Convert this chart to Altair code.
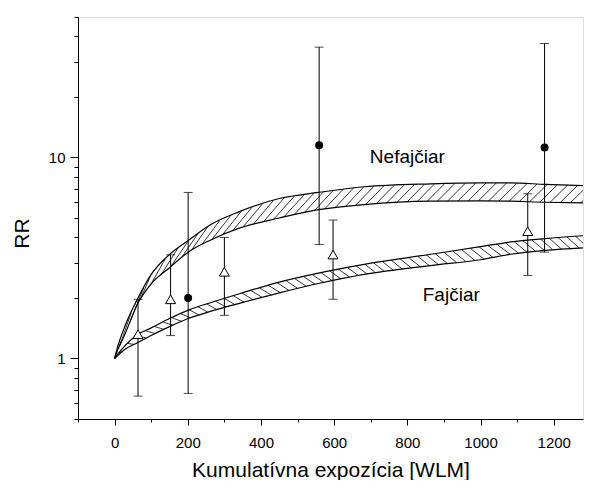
import altair as alt
import pandas as pd
import numpy as np

FONT = "Liberation Sans"

# ---- measured points (RR with confidence intervals) ----
non_x = [201, 559, 1175]
non_rr = [2.0, 11.5, 11.2]
non_lo = [0.67, 3.69, 3.38]
non_hi = [6.7, 35.4, 36.9]

smk_x = [64, 153, 300, 597, 1129]
smk_rr = [1.32, 1.97, 2.70, 3.29, 4.30]
smk_lo = [0.65, 1.30, 1.64, 1.97, 2.59]
smk_hi = [1.97, 3.28, 4.00, 4.88, 6.60]

# ---- model bands ----
band_x = [0, 10, 25, 64, 100, 150, 205, 264, 341, 450, 557, 682, 864, 1000, 1082, 1177, 1280]
non_band_up = [1.0, 1.17, 1.40, 2.0, 2.62, 3.29, 3.91, 4.65, 5.38, 6.25, 6.7, 7.15, 7.39, 7.47, 7.47, 7.35, 7.25]
non_band_lo = [1.0, 1.12, 1.28, 1.89, 2.35, 2.83, 3.42, 3.9, 4.45, 5.0, 5.5, 5.83, 6.06, 6.08, 6.06, 5.99, 5.95]
smk_band_up = [1.0, 1.06, 1.14, 1.32, 1.42, 1.58, 1.75, 1.9, 2.1, 2.4, 2.66, 2.94, 3.3, 3.6, 3.8, 3.95, 4.08]
smk_band_lo = [1.0, 1.04, 1.10, 1.20, 1.30, 1.44, 1.59, 1.72, 1.88, 2.12, 2.36, 2.62, 2.9, 3.1, 3.3, 3.45, 3.55]

# ---- axis ticks ----
x_major = [0, 200, 400, 600, 800, 1000, 1200]
x_minor = [-100, 100, 300, 500, 700, 900, 1100]
y_major = [1, 10]
y_minor = [0.5, 0.6, 0.7, 0.8, 0.9, 2, 3, 4, 5, 6, 7, 8, 9, 20, 30, 40, 50]

labels_txt = ["Nefajčiar", "Fajčiar"]
labels_x = [800, 920]
labels_y = [10.0, 2.08]

X_DOMAIN = [-100, 1280]
Y_DOMAIN = [0.5, 50]
W, H = 505, 402

xs = alt.Scale(domain=X_DOMAIN, nice=False, zero=False)
ys = alt.Scale(type="log", domain=Y_DOMAIN, nice=False)

# hatch helper (decoration derived from band outlines)
px_x = W / (X_DOMAIN[1] - X_DOMAIN[0])
px_dec = H / (np.log10(Y_DOMAIN[1]) - np.log10(Y_DOMAIN[0]))


def lint(xq, xv, yv):
    return 10 ** np.interp(xq, xv, np.log10(yv))


def hatch(up, lo, step, forward=True):
    rows = []
    x0 = step * 0.5
    while x0 < X_DOMAIN[1] + 60:
        h = px_dec * (np.log10(lint(x0, band_x, up)) - np.log10(lint(x0, band_x, lo)))
        d = h / px_x
        h2 = px_dec * (np.log10(lint(x0 + d, band_x, up)) - np.log10(lint(x0, band_x, lo)))
        d = 0.5 * (d + h2 / px_x)
        if forward:
            rows.append(dict(x=x0, y=lint(x0, band_x, lo), x2=x0 + d, y2=lint(x0 + d, band_x, up)))
        else:
            rows.append(dict(x=x0, y=lint(x0, band_x, up), x2=x0 + d, y2=lint(x0 + d, band_x, lo)))
        x0 += step
    return pd.DataFrame(rows)


hatch_df = pd.concat([hatch(non_band_up, non_band_lo, 28, True),
                      hatch(smk_band_up, smk_band_lo, 24, False)])

band_df = pd.concat([
    pd.DataFrame(dict(x=band_x, y=non_band_up, s="nu")),
    pd.DataFrame(dict(x=band_x, y=non_band_lo, s="nl")),
    pd.DataFrame(dict(x=band_x, y=smk_band_up, s="su")),
    pd.DataFrame(dict(x=band_x, y=smk_band_lo, s="sl")),
])

non_df = pd.DataFrame(dict(x=non_x, rr=non_rr, lo=non_lo, hi=non_hi))
smk_df = pd.DataFrame(dict(x=smk_x, rr=smk_rr, lo=smk_lo, hi=smk_hi))
err_df = pd.concat([non_df, smk_df])
cap_df = pd.concat([err_df[["x", "lo"]].rename(columns={"lo": "v"}),
                    err_df[["x", "hi"]].rename(columns={"hi": "v"})])
lab_df = pd.DataFrame(dict(t=labels_txt, x=labels_x, y=labels_y))
ax_df = pd.DataFrame(dict(x=[0], y=[1]))

common_axis = dict(grid=False, domainColor="black", tickColor="black", labelColor="black",
                   titleColor="black", labelFont=FONT, titleFont=FONT, titleFontWeight="normal",
                   domainWidth=1, tickWidth=1)

axes_major = alt.Chart(ax_df).mark_point(opacity=0).encode(
    x=alt.X("x:Q", scale=xs, axis=alt.Axis(values=x_major, tickSize=6, labelFontSize=15, labelPadding=10,
                                         format="d", title="Kumulatívna expozícia [WLM]", titleFontSize=21,
                                         titleY=57, titleBaseline="alphabetic", orient="bottom", **common_axis)),
    y=alt.Y("y:Q", scale=ys, axis=alt.Axis(values=y_major, tickSize=8, labelFontSize=15, labelPadding=5,
                                         format="d", title="RR", titleFontSize=21, titleX=-56, titleY=216,
                                         titleAngle=270, titleAlign="center", titleBaseline="middle",
                                         orient="left", **common_axis)),
)

axes_minor = alt.Chart(ax_df).mark_point(opacity=0).encode(
    x=alt.X("x:Q", scale=xs, axis=alt.Axis(values=x_minor, tickSize=3, labels=False, domain=False,
                                         title=None, orient="bottom", **common_axis)),
    y=alt.Y("y:Q", scale=ys, axis=alt.Axis(values=y_minor, tickSize=4, labels=False, domain=False,
                                         title=None, orient="left", **common_axis)),
)

bands = alt.Chart(band_df).mark_line(color="black", strokeWidth=1.2, interpolate="monotone", clip=True).encode(
    x=alt.X("x:Q", scale=xs, axis=None),
    y=alt.Y("y:Q", scale=ys, axis=None),
    detail="s:N",
)

hatches = alt.Chart(hatch_df).mark_rule(color="black", strokeWidth=0.8, clip=True).encode(
    x=alt.X("x:Q", scale=xs, axis=None),
    y=alt.Y("y:Q", scale=ys, axis=None),
    x2="x2:Q",
    y2="y2:Q",
)

errs = alt.Chart(err_df).mark_rule(color="black", strokeWidth=1).encode(
    x=alt.X("x:Q", scale=xs, axis=None),
    y=alt.Y("lo:Q", scale=ys, axis=None),
    y2="hi:Q",
)

caps = alt.Chart(cap_df).mark_tick(color="black", orient="horizontal", size=9, thickness=1).encode(
    x=alt.X("x:Q", scale=xs, axis=None),
    y=alt.Y("v:Q", scale=ys, axis=None),
)

tri = alt.Chart(smk_df).mark_point(shape="triangle-up", filled=True, fill="white", stroke="black",
                                   strokeWidth=1, size=100, opacity=1).encode(
    x=alt.X("x:Q", scale=xs, axis=None),
    y=alt.Y("rr:Q", scale=ys, axis=None),
)

dots = alt.Chart(non_df).mark_point(shape="circle", filled=True, color="black", size=64, opacity=1).encode(
    x=alt.X("x:Q", scale=xs, axis=None),
    y=alt.Y("rr:Q", scale=ys, axis=None),
)

labels = alt.Chart(lab_df).mark_text(font=FONT, fontSize=19, color="black", align="center",
                                     baseline="middle").encode(
    x=alt.X("x:Q", scale=xs, axis=None),
    y=alt.Y("y:Q", scale=ys, axis=None),
    text="t:N",
)

chart = alt.layer(axes_major, axes_minor, bands, hatches, errs, caps, tri, dots, labels).resolve_axis(
    x="independent", y="independent"
).properties(
    width=W, height=H, autosize="none",
    padding={"left": 70, "top": 9, "right": 5, "bottom": 61},
).configure_view(stroke=None).configure(background="white")

chart.save("out.html", embed_options={"renderer": "svg", "actions": False})
